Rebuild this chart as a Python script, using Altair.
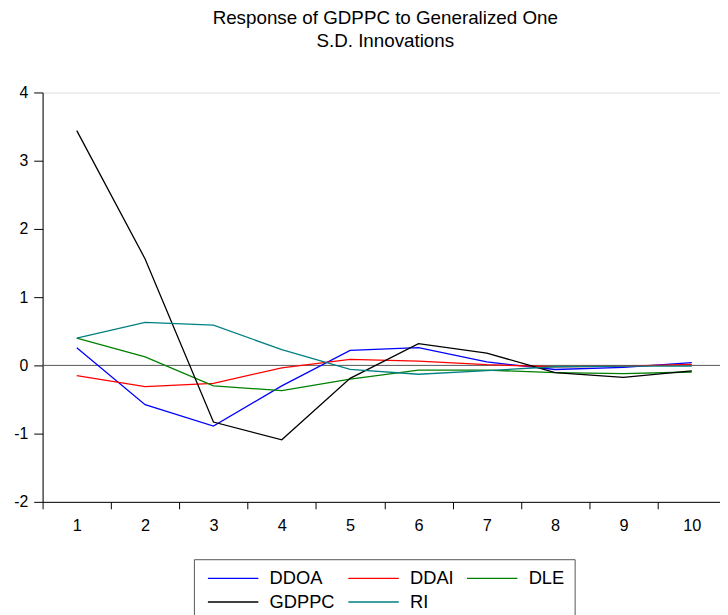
import altair as alt
import pandas as pd

steps = list(range(1, 11))
series = ["DDOA", "DDAI", "DLE", "GDPPC", "RI"]
colors = ["#0000FF", "#FF0000", "#008000", "#000000", "#008080"]

ddoa = [0.26, -0.575, -0.89, -0.30, 0.22, 0.26, 0.05, -0.06, -0.03, 0.04]
ddai = [-0.15, -0.31, -0.265, -0.035, 0.087, 0.063, 0.01, -0.02, -0.01, 0.015]
dle = [0.40, 0.125, -0.30, -0.37, -0.20, -0.07, -0.07, -0.105, -0.12, -0.097]
gdppc = [3.44, 1.56, -0.83, -1.09, -0.19, 0.32, 0.18, -0.105, -0.175, -0.08]
ri = [0.40, 0.63, 0.59, 0.23, -0.06, -0.13, -0.077, -0.02, -0.01, -0.01]

y_ticks = [-2, -1, 0, 1, 2, 3, 4]
x_tick_vals = [i / 2 for i in range(1, 21)]

rows = []
for name, vals in zip(series, [ddoa, ddai, dle, gdppc, ri]):
    for s, v in zip(steps, vals):
        rows.append({"step": s, "value": v, "series": name})
df = pd.DataFrame(rows)

FONT = "Liberation Sans"

x = alt.X(
    "step:Q",
    scale=alt.Scale(domain=[0.5, 10.413], nice=False, zero=False),
    axis=alt.Axis(
        values=x_tick_vals,
        title=None,
        grid=False,
        tickSize=7,
        tickColor="black",
        domainColor="black",
        labelExpr="datum.value % 1 === 0 ? '' + datum.value : ''",
        labelOverlap=False,
        labelFont=FONT,
        labelFontSize=16.5,
        labelPadding=9,
        labelColor="black",
        tickOpacity={"condition": {"test": "datum.value % 1 === 0", "value": 0}, "value": 1},
    ),
)
y = alt.Y(
    "value:Q",
    scale=alt.Scale(domain=[-2, 4], nice=False, zero=False),
    axis=alt.Axis(
        values=y_ticks,
        title=None,
        grid=False,
        tickSize=9,
        tickColor="black",
        domainColor="black",
        labelFont=FONT,
        labelFontSize=16,
        labelPadding=6,
        labelColor="black",
        labelExpr="datum.value < 0 ? '-' + abs(datum.value) : '' + datum.value",
    ),
)

zero = alt.Chart(pd.DataFrame({"v": [0]})).mark_rule(color="#555555", strokeWidth=1).encode(
    y=alt.Y("v:Q")
)

lines = alt.Chart(df).mark_line(strokeWidth=1.3, clip=True).encode(
    x=x,
    y=y,
    color=alt.Color(
        "series:N",
        scale=alt.Scale(domain=series, range=colors),
        sort=series,
        legend=alt.Legend(
            title=None,
            orient="none",
            legendX=153,
            legendY=472,
            direction="horizontal",
            columns=3,
            symbolType="M-1,0H9",
            symbolSize=104,
            symbolStrokeWidth=1.3,
            labelOffset=48,
            labelFont=FONT,
            labelFontSize=18.5,
            labelColor="black",
            columnPadding=9,
            rowPadding=5,
            padding=10,
            strokeColor="#555555",
            fillColor="white",
        ),
    ),
    detail="series:N",
)

chart = (
    alt.layer(zero, lines)
    .properties(
        width=685,
        height=414,
        autosize="none",
        padding={"left": 35, "top": 82, "right": 0, "bottom": 111},
        title=alt.TitleParams(
            ["Response of GDPPC to Generalized One", "S.D. Innovations"],
            font=FONT,
            fontSize=19,
            fontWeight="normal",
            color="black",
            anchor="middle",
            offset=34,
            lineHeight=23,
            dx=4,
        ),
    )
    .configure_view(stroke="black", strokeWidth=1)
    .configure(background="white")
)

chart.save("out.html", embed_options={"renderer": "svg", "actions": False})
